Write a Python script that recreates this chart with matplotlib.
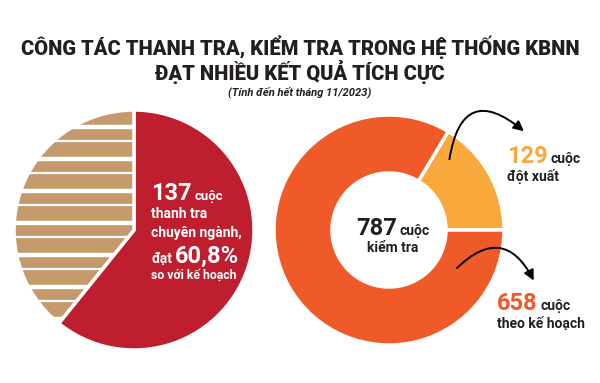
import numpy as np
import matplotlib
matplotlib.use("Agg")
import matplotlib.pyplot as plt

# DU LIEU

thanh_tra_labels = ["Đạt", "Còn lại"]
thanh_tra_values = [60.8, 39.2]

kiem_tra_labels = ["đột xuất", "theo kế hoạch"]
kiem_tra_values = [129, 658]

tong_kiem_tra = sum(kiem_tra_values)

# MAU

do = "#BE1E2D"
nau = "#C49A6C"
cam = "#F05A28"
vang = "#F9A93B"
den = "#231F20"

plt.rcParams['font.family'] = ['Liberation Sans Narrow', 'Roboto', 'DejaVu Sans']
FS = 'condensed'

fig = plt.figure(figsize=(6, 3.83), dpi=100)
ax = fig.add_axes([0, 0, 1, 1])

# PIE THANH TRA

wedges_l, _ = ax.pie(
    thanh_tra_values,
    colors=[do, nau],
    startangle=90,
    counterclock=False,
    center=(134, 153),
    radius=120,
    explode=[0.03, 0],
    wedgeprops=dict(edgecolor='white', linewidth=2.5)
)

# soc trang tren phan nau
soc_day = [127, 159, 191, 223, 255, 287, 319]
soc_mong = [141, 173, 205, 237, 269, 301]
l1 = ax.hlines([383 - y for y in soc_day], 0, 300, colors='white', linewidth=3.2)
l2 = ax.hlines([383 - y for y in soc_mong], 0, 300, colors='white', linewidth=1.6)
l1.set_clip_path(wedges_l[1])
l2.set_clip_path(wedges_l[1])

# DONUT KIEM TRA

wedges_r, _ = ax.pie(
    kiem_tra_values,
    colors=[vang, cam],
    startangle=0,
    counterclock=True,
    center=(389, 153),
    radius=115,
    wedgeprops=dict(width=58, edgecolor='white', linewidth=2.5)
)

ax.set_xlim(0, 600)
ax.set_ylim(0, 383)
ax.set_aspect('equal')
ax.axis('off')

renderer = fig.canvas.get_renderer()


def dong(x, y, phan, ha='left'):
    # phan: list of (chu, co chu, mau); y la baseline (pixel tu tren xuong)
    arts = []
    cx = x
    for chu, size, mau in phan:
        t = ax.text(cx, 383 - y, chu, fontsize=size, fontweight='bold',
                    fontstretch=FS, color=mau, va='baseline')
        w = t.get_window_extent(renderer).width
        cx += w + 3
        arts.append(t)
    if ha == 'center':
        tong = cx - 3 - x
        for t in arts:
            t.set_x(t.get_position()[0] - tong / 2)
    return arts


# TIEU DE

ax.text(300, 383 - 47, "CÔNG TÁC THANH TRA, KIỂM TRA TRONG HỆ THỐNG KBNN",
        ha='center', va='center', fontsize=14.5, fontweight='black',
        fontstretch=FS, color=den)
ax.text(300, 383 - 72, "ĐẠT NHIỀU KẾT QUẢ TÍCH CỰC",
        ha='center', va='center', fontsize=14.5, fontweight='black',
        fontstretch=FS, color=den)
ax.text(300, 383 - 92, "(Tính đến hết tháng 11/2023)",
        ha='center', va='center', fontsize=8, fontweight='bold',
        fontstyle='italic', fontstretch=FS, color=den)

# CHU TRONG PIE TRAI

dong(151, 200, [("137", 17, 'white'), ("cuộc", 9.5, 'white')])
dong(151, 218, [("thanh tra", 10, 'white')])
dong(151, 237, [("chuyên ngành,", 10, 'white')])
dong(151, 263, [("đạt", 10, 'white'),
                (f"{thanh_tra_values[0]:.1f}%".replace('.', ','), 17, 'white')])
dong(151, 279, [("so với kế hoạch", 8.8, 'white')])

# CHU TRONG DONUT

dong(393, 235, [(f"{tong_kiem_tra}", 17, den), ("cuộc", 10, den)], ha='center')
dong(393, 252, [("kiểm tra", 10, den)], ha='center')

# NHAN BEN PHAI

dong(507, 163, [(f"{kiem_tra_values[0]}", 17, vang), ("cuộc", 10, den)])
dong(507, 181, [(kiem_tra_labels[0], 10, den)])

dong(497, 310, [(f"{kiem_tra_values[1]}", 17, cam), ("cuộc", 10, den)])
dong(497, 328, [(kiem_tra_labels[1], 10, den)])

# MUI TEN CONG

ax.annotate("", xy=(526, 383 - 133), xytext=(449, 383 - 162),
            arrowprops=dict(arrowstyle='-|>,head_length=0.6,head_width=0.3',
                            connectionstyle='arc3,rad=-0.9',
                            color='black', linewidth=1.4))
ax.annotate("", xy=(535, 383 - 283), xytext=(455, 383 - 270),
            arrowprops=dict(arrowstyle='-|>,head_length=0.6,head_width=0.3',
                            connectionstyle='arc3,rad=-0.7',
                            color='black', linewidth=1.4))

fig.savefig("out.png", dpi=100, facecolor='white')
